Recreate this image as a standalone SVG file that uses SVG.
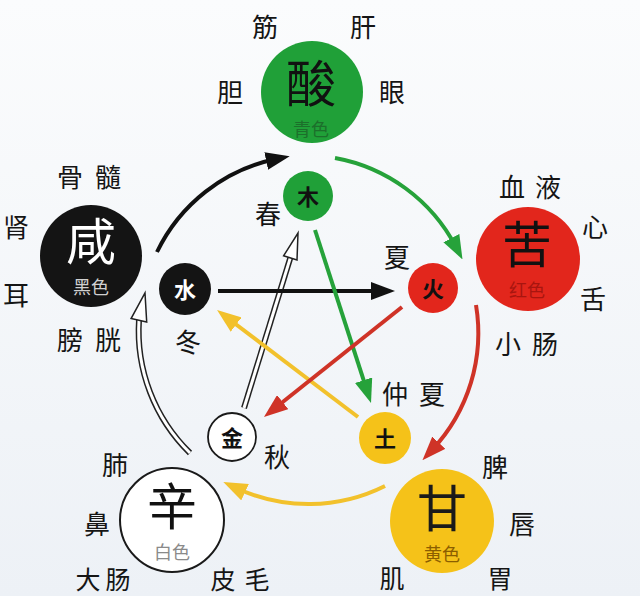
<svg xmlns="http://www.w3.org/2000/svg" width="640" height="596" viewBox="0 0 640 596">
<defs>
<linearGradient id="bg" x1="0" y1="0" x2="0" y2="1">
<stop offset="0" stop-color="#fbfcfd"/>
<stop offset="1" stop-color="#edf1f6"/>
</linearGradient>
<marker id="ah-black" viewBox="0 0 24 18" refX="10" refY="9" markerWidth="24" markerHeight="18" orient="auto" markerUnits="userSpaceOnUse"><path d="M0,0 L24,9 L0,18 z" fill="#111"/></marker>
<marker id="ah-green" viewBox="0 0 24 18" refX="10" refY="9" markerWidth="24" markerHeight="18" orient="auto" markerUnits="userSpaceOnUse"><path d="M0,0 L24,9 L0,18 z" fill="#26a23a"/></marker>
<marker id="ah-red" viewBox="0 0 24 18" refX="10" refY="9" markerWidth="24" markerHeight="18" orient="auto" markerUnits="userSpaceOnUse"><path d="M0,0 L24,9 L0,18 z" fill="#cf3327"/></marker>
<marker id="ah-yellow" viewBox="0 0 24 18" refX="10" refY="9" markerWidth="24" markerHeight="18" orient="auto" markerUnits="userSpaceOnUse"><path d="M0,0 L24,9 L0,18 z" fill="#f2c12c"/></marker>
<style>
text{font-family:"Noto Sans CJK SC","Noto Sans CJK TC",sans-serif;text-anchor:middle;dominant-baseline:central}
.lbl{font-size:26px;fill:#151515}
.bot{font-size:25px}
.big{font-size:50px}
.sub{font-size:18px}
.sm{font-size:22px;font-weight:bold}
.conn{fill:none;stroke-width:4}
.hol-o{fill:none;stroke:#222;stroke-width:6}
.hol-i{fill:none;stroke:#fff;stroke-width:3}
.hol-h{fill:#fff;stroke:#222;stroke-width:1.5;stroke-linejoin:miter}
</style>
</defs>
<rect width="640" height="596" fill="url(#bg)"/>

<g id="connectors">
<path class="hol-o" d="M190,453 A171,171 0 0 1 139,320"/>
<path class="hol-i" d="M190,453 A171,171 0 0 1 139,320"/>
<polygon class="hol-h" points="145,293 146.7,322 131.1,318.6"/>
<path class="hol-o" d="M244,408 L290.3,257.9"/>
<path class="hol-i" d="M244,408 L290.3,257.9"/>
<polygon class="hol-h" points="298,233 297,260 283.6,255.8"/>
<path class="conn" stroke="#111" d="M157,252 A171,171 0 0 1 276,159" marker-end="url(#ah-black)"/>
<path class="conn" stroke="#111" d="M218,291 L381,291" marker-end="url(#ah-black)"/>
<path class="conn" stroke="#26a23a" d="M335,158 A171,171 0 0 1 456,247" marker-end="url(#ah-green)"/>
<path class="conn" stroke="#26a23a" d="M315,230 L366.7,389.7" marker-end="url(#ah-green)"/>
<path class="conn" stroke="#f2c12c" d="M385,486 A171,171 0 0 1 236,488" marker-end="url(#ah-yellow)"/>
<path class="conn" stroke="#f2c12c" d="M358,417 L228.2,318.5" marker-end="url(#ah-yellow)"/>
<path class="conn" stroke="#cf3327" d="M476,305 A171,171 0 0 1 432,450" marker-end="url(#ah-red)"/>
<path class="conn" stroke="#cf3327" d="M402,307 L274.9,408.3" marker-end="url(#ah-red)"/>
</g>

<g id="node-suan">
<circle cx="312" cy="92" r="51" fill="#20a038"/>
<text class="big" x="311" y="80" fill="#111">酸</text>
<text class="sub" x="311" y="128" fill="#1c6f2b">青色</text>
<text class="lbl" x="265" y="25">筋</text>
<text class="lbl" x="363" y="25">肝</text>
<text class="lbl" x="230" y="90">胆</text>
<text class="lbl" x="392" y="90">眼</text>
</g>

<g id="node-xian">
<circle cx="91" cy="256" r="51" fill="#141414"/>
<text class="big" x="91" y="238" fill="#fff">咸</text>
<text class="sub" x="91" y="286" fill="#d0d0d0">黑色</text>
<text class="lbl" x="70" y="175">骨</text>
<text class="lbl" x="108" y="175">髓</text>
<text class="lbl" x="16" y="225">肾</text>
<text class="lbl" x="16" y="293">耳</text>
<text class="lbl" x="70" y="338">膀</text>
<text class="lbl" x="108" y="338">胱</text>
</g>

<g id="node-ku">
<circle cx="528" cy="259" r="52" fill="#e2261c"/>
<text class="big" x="527" y="241" fill="#111">苦</text>
<text class="sub" x="527" y="289" fill="#a8150f">红色</text>
<text class="lbl" x="512" y="185">血</text>
<text class="lbl" x="548" y="185">液</text>
<text class="lbl" x="595" y="225">心</text>
<text class="lbl" x="593" y="297">舌</text>
<text class="lbl" x="508" y="342">小</text>
<text class="lbl" x="545" y="342">肠</text>
</g>

<g id="node-xin">
<circle cx="172" cy="520" r="52" fill="#fff" stroke="#1a1a1a" stroke-width="2"/>
<text class="big" x="172" y="503" fill="#111">辛</text>
<text class="sub" x="172" y="551" fill="#8a8a8a">白色</text>
<text class="lbl" x="115" y="463">肺</text>
<text class="lbl" x="97" y="522">鼻</text>
<text class="lbl bot" x="88" y="578">大</text>
<text class="lbl bot" x="118" y="578">肠</text>
<text class="lbl bot" x="223" y="578">皮</text>
<text class="lbl bot" x="257" y="578">毛</text>
</g>

<g id="node-gan">
<circle cx="442" cy="521" r="52" fill="#f5c219"/>
<text class="big" x="442" y="505" fill="#1a1a1a">甘</text>
<text class="sub" x="442" y="553" fill="#8b5e00">黄色</text>
<text class="lbl" x="495" y="465">脾</text>
<text class="lbl" x="522" y="522">唇</text>
<text class="lbl bot" x="500" y="577">胃</text>
<text class="lbl bot" x="392" y="577">肌</text>
</g>

<g id="node-mu">
<circle cx="308" cy="196" r="25" fill="#20a038"/>
<text class="sm" x="308" y="195" fill="#111">木</text>
<text class="lbl" x="268" y="212">春</text>
</g>

<g id="node-shui">
<circle cx="185" cy="289" r="26" fill="#141414"/>
<text class="sm" x="185" y="288" fill="#fff">水</text>
<text class="lbl" x="188" y="340">冬</text>
</g>

<g id="node-huo">
<circle cx="433" cy="288" r="25" fill="#e2261c"/>
<text class="sm" x="433" y="287" fill="#111">火</text>
<text class="lbl" x="397" y="255">夏</text>
</g>

<g id="node-tu">
<circle cx="385" cy="438" r="26" fill="#f5c219"/>
<text class="sm" x="385" y="437" fill="#111">土</text>
<text class="lbl" x="395" y="392">仲</text>
<text class="lbl" x="432" y="392">夏</text>
</g>

<g id="node-jin">
<circle cx="232" cy="437" r="24" fill="#fff" stroke="#1a1a1a" stroke-width="1.8"/>
<text class="sm" x="232" y="436" fill="#111">金</text>
<text class="lbl" x="277" y="455">秋</text>
</g>
</svg>
